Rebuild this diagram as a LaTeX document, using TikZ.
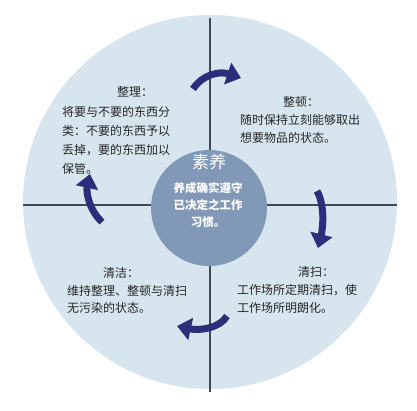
\documentclass[tikz,border=0pt]{standalone}
\usepackage{fontspec}
\newfontfamily\cjk{Noto Sans CJK SC}
\usetikzlibrary{arrows.meta}
\definecolor{outerfill}{HTML}{D6E5EE}
\definecolor{innerfill}{HTML}{8199B6}
\definecolor{arrowblue}{HTML}{2B2E7A}
\definecolor{axisgray}{HTML}{3E4852}
\begin{document}
\begin{tikzpicture}[x=1pt,y=-1pt,
  body/.style={anchor=base west, inner sep=0pt, font=\cjk\fontsize{12}{14}\selectfont, text=black!85},
  ctext/.style={anchor=base, inner sep=0pt, font=\cjk\bfseries\fontsize{11.5}{14}\selectfont, text=white},
  cyclearrow/.style={draw=arrowblue, line width=7pt, -{Triangle[width=22pt,length=14pt]}}]
\useasboundingbox (0,0) rectangle (417,410);
\fill[white] (0,0) rectangle (417,410);
% outer disc
\node[circle, fill=outerfill, minimum size=374pt, inner sep=0pt] (outer) at (210,202) {};
% axes
\coordinate (vt) at (210,18);
\coordinate (vb) at (210,392);
\coordinate (hl) at (23,205);
\coordinate (hr) at (397,205);
\draw[axisgray, line width=1.1pt] (vt) -- (vb);
\draw[axisgray, line width=1.1pt] (hl) -- (hr);
% inner disc
\node[circle, fill=innerfill, minimum size=116pt, inner sep=0pt] (inner) at (209,208) {};
% centre text
\node[ctext, font=\cjk\fontsize{17}{20}\selectfont] (suyang) at (209,168.5) {素养};
\node[ctext] (c1) at (208,192.5) {养成确实遵守};
\node[ctext] (c2) at (208,209.5) {已决定之工作};
\node[ctext] (c3) at (208,226.5) {习惯。};
% 整理
\node[body] (t1) at (117,96.5) {整理：};
\node[body] (a1) at (62,116.5) {将要与不要的东西分};
\node[body] (a2) at (62,135.5) {类：不要的东西予以};
\node[body] (a3) at (62,154.5) {丢掉，要的东西加以};
\node[body] (a4) at (62,173.5) {保管。};
% 整顿
\node[body] (t2) at (283,106.5) {整顿：};
\node[body] (b1) at (240,124.5) {随时保持立刻能够取出};
\node[body] (b2) at (240,142.5) {想要物品的状态。};
% 清洁
\node[body] (t3) at (103,277.5) {清洁：};
\node[body] (d1) at (67,295.5) {维持整理、整顿与清扫};
\node[body] (d2) at (67,312.5) {无污染的状态。};
% 清扫
\node[body] (t4) at (298,276.5) {清扫：};
\node[body] (e1) at (237,294.5) {工作场所定期清扫，使};
\node[body] (e2) at (237,312.5) {工作场所明朗化。};
% cycle arrows
\coordinate (p1s) at (193,89);
\coordinate (p1e) at (241,78);
\coordinate (p2s) at (317,191);
\coordinate (p2e) at (318,248);
\coordinate (p3s) at (227,316);
\coordinate (p3e) at (177,326);
\coordinate (p4s) at (102,222);
\coordinate (p4e) at (90,174);
\draw[cyclearrow] (p1s) .. controls (203,74) and (220,71) .. (p1e);
\draw[cyclearrow] (p2s) .. controls (325,205) and (323,228) .. (p2e);
\draw[cyclearrow] (p3s) .. controls (220,328) and (200,331) .. (p3e);
\draw[cyclearrow] (p4s) .. controls (89,210) and (86,192) .. (p4e);
\end{tikzpicture}
\end{document}
